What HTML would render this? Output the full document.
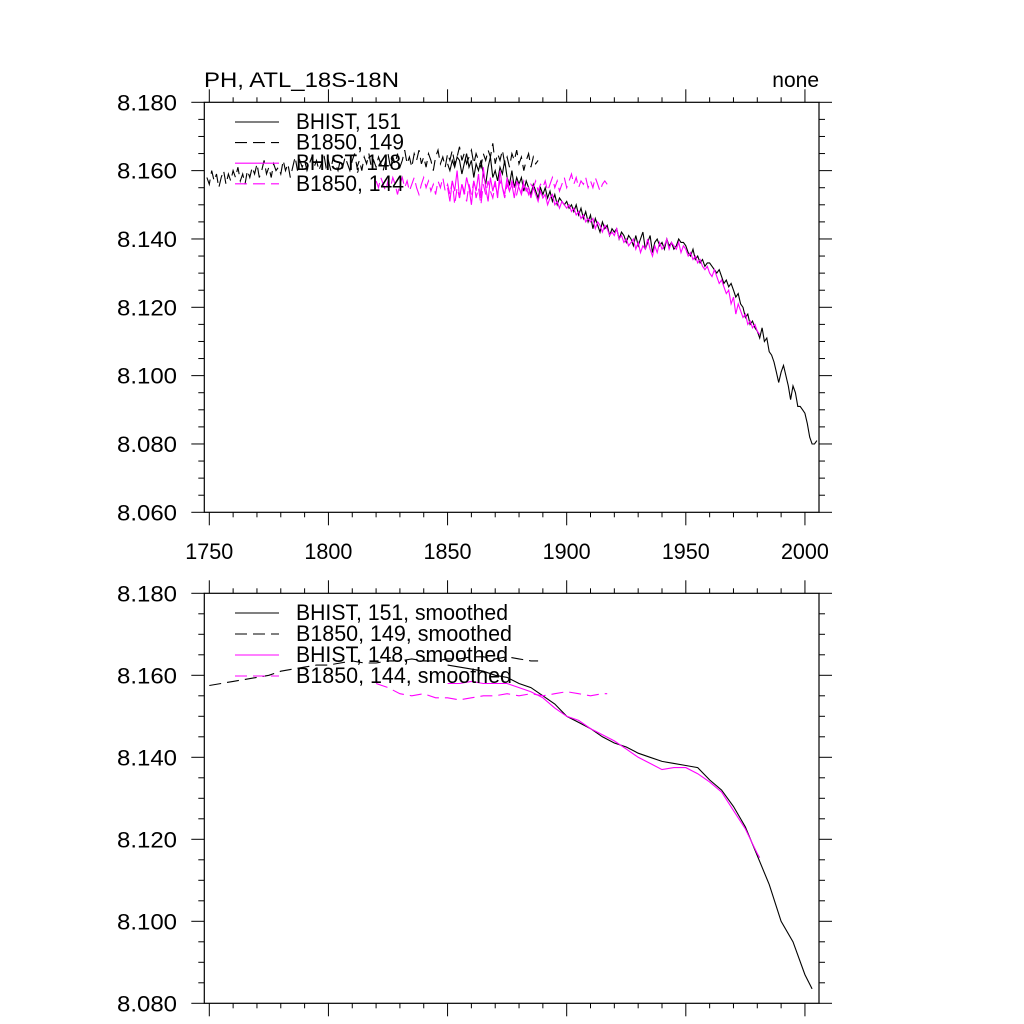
<!DOCTYPE html>
<html><head><meta charset="utf-8"><style>
html,body{margin:0;padding:0;background:#fff;}
svg{display:block;font-family:"Liberation Sans",Arial,sans-serif;}
</style></head><body>
<svg id="chart" width="1024" height="1024" viewBox="0 0 1024 1024" xmlns="http://www.w3.org/2000/svg">
<rect x="0" y="0" width="1024" height="1024" fill="#fff"/>
<text x="204" y="87" font-size="21" textLength="195" lengthAdjust="spacingAndGlyphs">PH, ATL_18S-18N</text>
<text x="819" y="87" font-size="21" text-anchor="end">none</text>
<g id="p1"></g><g id="p2"></g>
</svg>
<script>
// ---- data ----
const bhist151Start = 1850;
const bhist151 = [8.162,8.160,8.163,8.161,8.164,8.163,8.159,8.162,8.165,8.161,
8.163,8.158,8.162,8.160,8.163,8.159,8.156,8.161,8.164,8.158,
8.160,8.157,8.161,8.159,8.163,8.158,8.156,8.160,8.155,8.158,
8.156,8.158,8.154,8.157,8.155,8.153,8.156,8.154,8.152,8.155,
8.153,8.155,8.152,8.154,8.151,8.153,8.150,8.152,8.151,8.150,
8.151,8.149,8.150,8.148,8.150,8.147,8.149,8.146,8.148,8.145,
8.147,8.143,8.146,8.144,8.142,8.145,8.143,8.144,8.141,8.143,
8.142,8.143,8.140,8.142,8.141,8.139,8.141,8.140,8.138,8.141,
8.138,8.140,8.142,8.137,8.139,8.141,8.136,8.139,8.140,8.138,
8.139,8.137,8.140,8.138,8.139,8.137,8.138,8.140,8.139,8.139,
8.138,8.136,8.135,8.137,8.134,8.135,8.133,8.134,8.132,8.133,
8.133,8.132,8.131,8.130,8.131,8.129,8.127,8.128,8.126,8.127,
8.125,8.123,8.124,8.121,8.120,8.117,8.118,8.115,8.116,8.114,
8.113,8.111,8.114,8.110,8.111,8.107,8.106,8.104,8.101,8.098,
8.101,8.103,8.100,8.097,8.093,8.097,8.095,8.091,8.091,8.090,
8.089,8.086,8.082,8.080,8.080,8.081];
const b1850_149Start = 1749;
const b1850_149 = [8.158,8.156,8.160,8.157,8.159,8.155,8.158,8.160,8.156,8.159,
8.157,8.160,8.158,8.161,8.157,8.159,8.156,8.160,8.158,8.161,
8.159,8.162,8.158,8.160,8.163,8.159,8.161,8.158,8.162,8.160,
8.161,8.159,8.163,8.160,8.162,8.158,8.161,8.164,8.160,8.163,
8.161,8.163,8.160,8.162,8.164,8.161,8.163,8.160,8.162,8.165,
8.161,8.163,8.160,8.164,8.162,8.160,8.163,8.161,8.164,8.162,
8.160,8.163,8.165,8.161,8.163,8.160,8.164,8.162,8.165,8.161,
8.163,8.161,8.164,8.162,8.160,8.163,8.165,8.161,8.164,8.162,
8.165,8.161,8.163,8.166,8.162,8.164,8.161,8.165,8.163,8.166,
8.162,8.164,8.161,8.165,8.163,8.160,8.164,8.166,8.162,8.164,
8.161,8.165,8.163,8.166,8.162,8.164,8.167,8.163,8.165,8.162,
8.164,8.166,8.162,8.165,8.163,8.161,8.165,8.163,8.166,8.164,
8.168,8.162,8.165,8.163,8.166,8.162,8.164,8.161,8.165,8.163,
8.166,8.162,8.164,8.160,8.163,8.165,8.161,8.164,8.162,8.163];
const bhist148Start = 1850;
const bhist148 = [8.155,8.151,8.157,8.154,8.160,8.152,8.156,8.153,8.158,8.155,
8.150,8.157,8.154,8.159,8.152,8.161,8.155,8.151,8.158,8.154,
8.157,8.152,8.160,8.155,8.153,8.158,8.154,8.156,8.152,8.157,
8.155,8.153,8.156,8.154,8.155,8.152,8.155,8.153,8.151,8.154,
8.152,8.153,8.150,8.152,8.153,8.150,8.151,8.149,8.151,8.150,
8.149,8.150,8.148,8.149,8.147,8.148,8.146,8.147,8.145,8.146,
8.145,8.146,8.143,8.145,8.144,8.142,8.144,8.143,8.141,8.142,
8.141,8.143,8.140,8.141,8.139,8.140,8.138,8.139,8.140,8.137,
8.139,8.136,8.138,8.137,8.140,8.137,8.135,8.138,8.136,8.139,
8.137,8.138,8.140,8.137,8.139,8.138,8.137,8.139,8.136,8.138,
8.137,8.135,8.136,8.134,8.135,8.133,8.134,8.132,8.131,8.132,
8.130,8.129,8.131,8.129,8.127,8.128,8.126,8.124,8.125,8.121,
8.123,8.118,8.121,8.119,8.117,8.118,8.115,8.116,8.114,8.115,
8.113,8.112];
const b1850_144Start = 1820;
const b1850_144 = [8.157,8.155,8.158,8.156,8.154,8.157,8.155,8.158,8.156,8.153,
8.156,8.158,8.155,8.157,8.154,8.156,8.158,8.155,8.153,8.156,
8.158,8.155,8.157,8.154,8.156,8.153,8.157,8.155,8.158,8.154,
8.156,8.153,8.157,8.150,8.155,8.152,8.156,8.154,8.151,8.156,
8.153,8.157,8.152,8.155,8.150,8.156,8.153,8.157,8.154,8.152,
8.156,8.153,8.157,8.155,8.152,8.156,8.154,8.157,8.155,8.153,
8.156,8.154,8.157,8.155,8.153,8.156,8.155,8.157,8.154,8.156,
8.155,8.157,8.154,8.156,8.158,8.155,8.157,8.154,8.156,8.158,
8.155,8.157,8.159,8.156,8.158,8.155,8.157,8.156,8.158,8.155,
8.157,8.155,8.158,8.156,8.154,8.156,8.157,8.156];
// smoothed
const sB149Years = [1750,1755,1760,1765,1770,1775,1780,1785,1790,1795,1800,1805,1810,1815,1820,1825,1830,1835,1840,1845,1850,1855,1860,1865,1870,1875,1880,1885,1888];
const sB149 = [8.1575,8.158,8.1585,8.159,8.1595,8.160,8.161,8.1615,8.162,8.1625,8.1625,8.163,8.1635,8.163,8.163,8.1635,8.1635,8.164,8.1635,8.1635,8.164,8.164,8.1645,8.1645,8.164,8.1645,8.164,8.1635,8.1635];
const sH151Years = [1850,1855,1860,1865,1870,1875,1880,1885,1890,1895,1900,1905,1910,1915,1920,1925,1930,1935,1940,1945,1950,1955,1960,1965,1970,1975,1980,1985,1990,1995,2000,2003];
const sH151 = [8.1625,8.162,8.1615,8.161,8.160,8.1595,8.158,8.157,8.155,8.153,8.150,8.1485,8.147,8.145,8.1435,8.1425,8.141,8.140,8.139,8.1385,8.138,8.1375,8.1345,8.132,8.128,8.123,8.116,8.109,8.100,8.095,8.087,8.0835];
const sH148Years = [1850,1855,1860,1865,1870,1875,1880,1885,1890,1895,1900,1905,1910,1915,1920,1925,1930,1935,1940,1945,1950,1955,1960,1965,1970,1975,1980,1981];
const sH148 = [8.158,8.158,8.1585,8.158,8.158,8.158,8.157,8.156,8.1545,8.152,8.150,8.149,8.147,8.1455,8.144,8.142,8.140,8.1385,8.137,8.1375,8.1375,8.136,8.134,8.1315,8.127,8.1225,8.1165,8.1155];
const sB144Years = [1820,1825,1830,1835,1840,1845,1850,1855,1860,1865,1870,1875,1880,1885,1890,1895,1900,1905,1910,1915,1917];
const sB144 = [8.158,8.157,8.1555,8.155,8.1555,8.1545,8.1545,8.154,8.1545,8.155,8.155,8.1555,8.155,8.1555,8.155,8.1555,8.156,8.1555,8.155,8.1555,8.1555];
const xTickLabels = ["1750","1800","1850","1900","1950","2000"];
const legendTop = ["BHIST, 151","B1850, 149","BHIST, 148","B1850, 144"];
const legendBottom = ["BHIST, 151, smoothed","B1850, 149, smoothed","BHIST, 148, smoothed","B1850, 144, smoothed"];

// ---- layout ----
const NS="http://www.w3.org/2000/svg";
const L=204.3,R=819,X0=1747.9,X1=2005.9;
function xs(yr){return L+(yr-X0)/(X1-X0)*(R-L);}
function mk(tag,attrs,parent){const e=document.createElementNS(NS,tag);for(const k in attrs)e.setAttribute(k,attrs[k]);parent.appendChild(e);return e;}
const series=[{c:"#000",d:null},{c:"#000",d:"12 6"},{c:"#ff00ff",d:null},{c:"#ff00ff",d:"12 6"}];

function panel(g,top,bot,vmin,vmax,showX,lines,legend,legY,legDy,legW){
  const ys=v=>bot-(v-vmin)/(vmax-vmin)*(bot-top);
  const fr=mk("rect",{x:L,y:top,width:R-L,height:bot-top,fill:"none",stroke:"#000","stroke-width":1.2},g);
  
  
  const nMinor=Math.round((vmax-vmin)/0.005);
  for(let i=0;i<=nMinor;i++){
    const v=vmin+i*0.005,y=ys(v),maj=(i%4===0),len=maj?13:6;
    mk("line",{x1:L,x2:L-len,y1:y,y2:y,stroke:"#000","stroke-width":1},g);
    mk("line",{x1:R,x2:R+len,y1:y,y2:y,stroke:"#000","stroke-width":1},g);
    if(maj){const t=mk("text",{x:177,y:y+8,"font-size":22,"text-anchor":"end",textLength:60,lengthAdjust:"spacingAndGlyphs"},g);t.textContent=v.toFixed(3);
      
      }
  }
  for(let yr=1750;yr<=2000;yr+=10){
    const x=xs(yr),maj=(yr%50===0),len=maj?13:5;
    mk("line",{x1:x,x2:x,y1:top,y2:top-len,stroke:"#000","stroke-width":1},g);
    mk("line",{x1:x,x2:x,y1:bot,y2:bot+len,stroke:"#000","stroke-width":1},g);
  }
  if(showX){xTickLabels.forEach(s=>{const t=mk("text",{x:xs(+s),y:559,"font-size":22,"text-anchor":"middle",textLength:48,lengthAdjust:"spacingAndGlyphs"},g);t.textContent=s;
    
    });}
  lines.forEach((ln,i)=>{
    const pts=ln.vals.map((v,j)=>xs(ln.years?ln.years[j]:ln.start+j).toFixed(1)+","+ys(v).toFixed(1)).join(" ");
    const a={points:pts,fill:"none",stroke:series[i].c,"stroke-width":1.1};
    if(series[i].d)a["stroke-dasharray"]=series[i].d;
    const p=mk("polyline",a,g);
    
    
  });
  legend.forEach((s,i)=>{
    const y=legY+i*legDy;
    const a={x1:235,x2:279,y1:y,y2:y,stroke:series[i].c,"stroke-width":1.1};
    if(series[i].d)a["stroke-dasharray"]=series[i].d;
    const l=mk("line",a,g);
    
    
    const t=mk("text",{x:296,y:y+7,"font-size":22,textLength:legW[i],lengthAdjust:"spacingAndGlyphs"},g);t.textContent=s;
    
    
  });
}
panel(document.getElementById("p1"),102.3,512.3,8.060,8.180,true,
  [{start:bhist151Start,vals:bhist151},{start:b1850_149Start,vals:b1850_149},{start:bhist148Start,vals:bhist148},{start:b1850_144Start,vals:b1850_144}],
  legendTop,122,20.6,[105,108,105,108]);
panel(document.getElementById("p2"),593.3,1003.3,8.080,8.180,false,
  [{years:sH151Years,vals:sH151},{years:sB149Years,vals:sB149},{years:sH148Years,vals:sH148},{years:sB144Years,vals:sB144}],
  legendBottom,613,21,[212,216,212,216]);
</script>
</body></html>
